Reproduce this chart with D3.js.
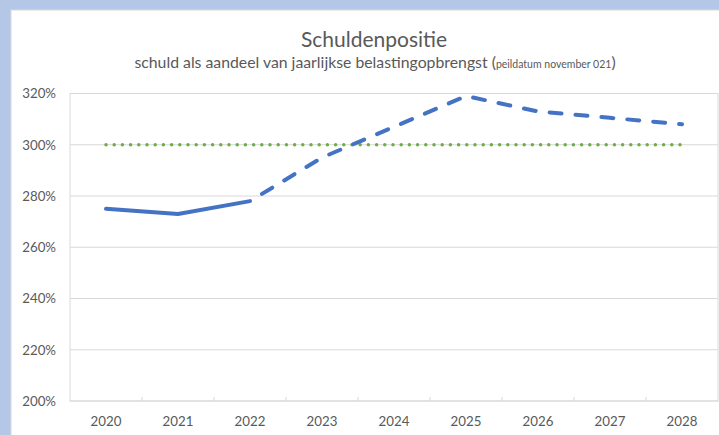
<!DOCTYPE html>
<html lang="nl">

<head>
    <meta charset="UTF-8">
    <title>Schuldenpositie</title>
    <script src="https://d3js.org/d3.v7.min.js"></script>
    <style>
        html, body {
            margin: 0;
            padding: 0;
            background: #b4c7e7;
            overflow: hidden;
        }

        svg {
            display: block;
            font-family: Lato, "Noto Sans", sans-serif;
        }

        .lbl {
            fill: #595959;
            font-size: 13.3px;
        }
    </style>
</head>

<body>
    <svg id="chart" width="719" height="435"></svg>
    <script>
        // jaren en waarden (in %)
        const years = ["2020", "2021", "2022", "2023", "2024", "2025", "2026", "2027", "2028"];
        const actualYears = ["2020", "2021", "2022"];
        const actualValues = [275, 273, 278];
        const forecastYears = ["2022", "2023", "2024", "2025", "2026", "2027", "2028"];
        const forecastValues = [278, 295, 307, 319, 313, 310.5, 308];
        const normValue = 300;
        const yTicks = [200, 220, 240, 260, 280, 300, 320];

        const svg = d3.select("#chart");

        // witte grafiekvlak
        svg.append("rect")
            .attr("x", 11).attr("y", 10)
            .attr("width", 720).attr("height", 440)
            .attr("fill", "#fff")
            .attr("stroke", "#d9d9d9");

        const plotLeft = 70, plotRight = 718, plotTop = 93.5, plotBottom = 401;

        const x = d3.scaleBand().domain(years).range([plotLeft, plotRight]);
        const cx = d => x(d) + x.bandwidth() / 2;
        const y = d3.scaleLinear().domain([200, 320]).range([plotBottom, plotTop]);

        // gridlijnen
        svg.append("g")
            .selectAll("line")
            .data(yTicks)
            .join("line")
            .attr("x1", plotLeft).attr("x2", plotRight)
            .attr("y1", d => y(d)).attr("y2", d => y(d))
            .attr("stroke", "#d9d9d9")
            .attr("stroke-width", 1);

        // rand van het plotvlak
        svg.append("rect")
            .attr("x", plotLeft).attr("y", plotTop)
            .attr("width", plotRight - plotLeft).attr("height", plotBottom - plotTop)
            .attr("fill", "none")
            .attr("stroke", "#d9d9d9");

        // streepjes op de x-as tussen de categorieen
        svg.append("g")
            .selectAll("line")
            .data(years.slice(1))
            .join("line")
            .attr("x1", d => x(d)).attr("x2", d => x(d))
            .attr("y1", plotBottom).attr("y2", plotBottom - 4)
            .attr("stroke", "#d9d9d9");

        // y-as labels
        const yAxis = d3.axisLeft(y).tickValues(yTicks).tickSize(0).tickPadding(14)
            .tickFormat(d => d + "%");
        svg.append("g")
            .attr("transform", `translate(${plotLeft},0)`)
            .call(yAxis)
            .call(g => g.select(".domain").remove())
            .call(g => g.attr("font-family", null).attr("font-size", null))
            .selectAll("text")
            .attr("class", "lbl");

        // x-as labels
        const xAxis = d3.axisBottom(x).tickSize(0).tickPadding(16);
        svg.append("g")
            .attr("transform", `translate(0,${plotBottom})`)
            .call(xAxis)
            .call(g => g.select(".domain").remove())
            .call(g => g.attr("font-family", null).attr("font-size", null))
            .selectAll("text")
            .attr("class", "lbl");

        // 300% norm (gestippeld groen)
        svg.append("line")
            .attr("x1", cx(years[0])).attr("x2", cx(years[years.length - 1]))
            .attr("y1", y(normValue)).attr("y2", y(normValue))
            .attr("stroke", "#70ad47")
            .attr("stroke-width", 3.5)
            .attr("stroke-linecap", "round")
            .attr("stroke-dasharray", "0,8.2");

        const line = d3.line().x(d => cx(d[0])).y(d => y(d[1]));

        // prognose (gestreept)
        svg.append("path")
            .datum(d3.zip(forecastYears, forecastValues))
            .attr("d", line)
            .attr("fill", "none")
            .attr("stroke", "#4472c4")
            .attr("stroke-width", 4)
            .attr("stroke-linecap", "round")
            .attr("stroke-linejoin", "round")
            .attr("stroke-dasharray", "12,14")
            .attr("stroke-dashoffset", -14);

        // realisatie (doorgetrokken)
        svg.append("path")
            .datum(d3.zip(actualYears, actualValues))
            .attr("d", line)
            .attr("fill", "none")
            .attr("stroke", "#4472c4")
            .attr("stroke-width", 4)
            .attr("stroke-linecap", "round")
            .attr("stroke-linejoin", "round");

        // titels
        svg.append("text")
            .attr("x", 374).attr("y", 47)
            .attr("text-anchor", "middle")
            .attr("fill", "#595959")
            .attr("font-size", 21)
            .text("Schuldenpositie");

        const sub = svg.append("text")
            .attr("x", 375).attr("y", 68)
            .attr("text-anchor", "middle")
            .attr("fill", "#595959")
            .attr("font-size", 15.8);
        sub.append("tspan").text("schuld als aandeel van jaarlijkse belastingopbrengst (");
        sub.append("tspan").attr("font-size", 10.5).text("peildatum november 021");
        sub.append("tspan").text(")");
    </script>
</body>

</html>
